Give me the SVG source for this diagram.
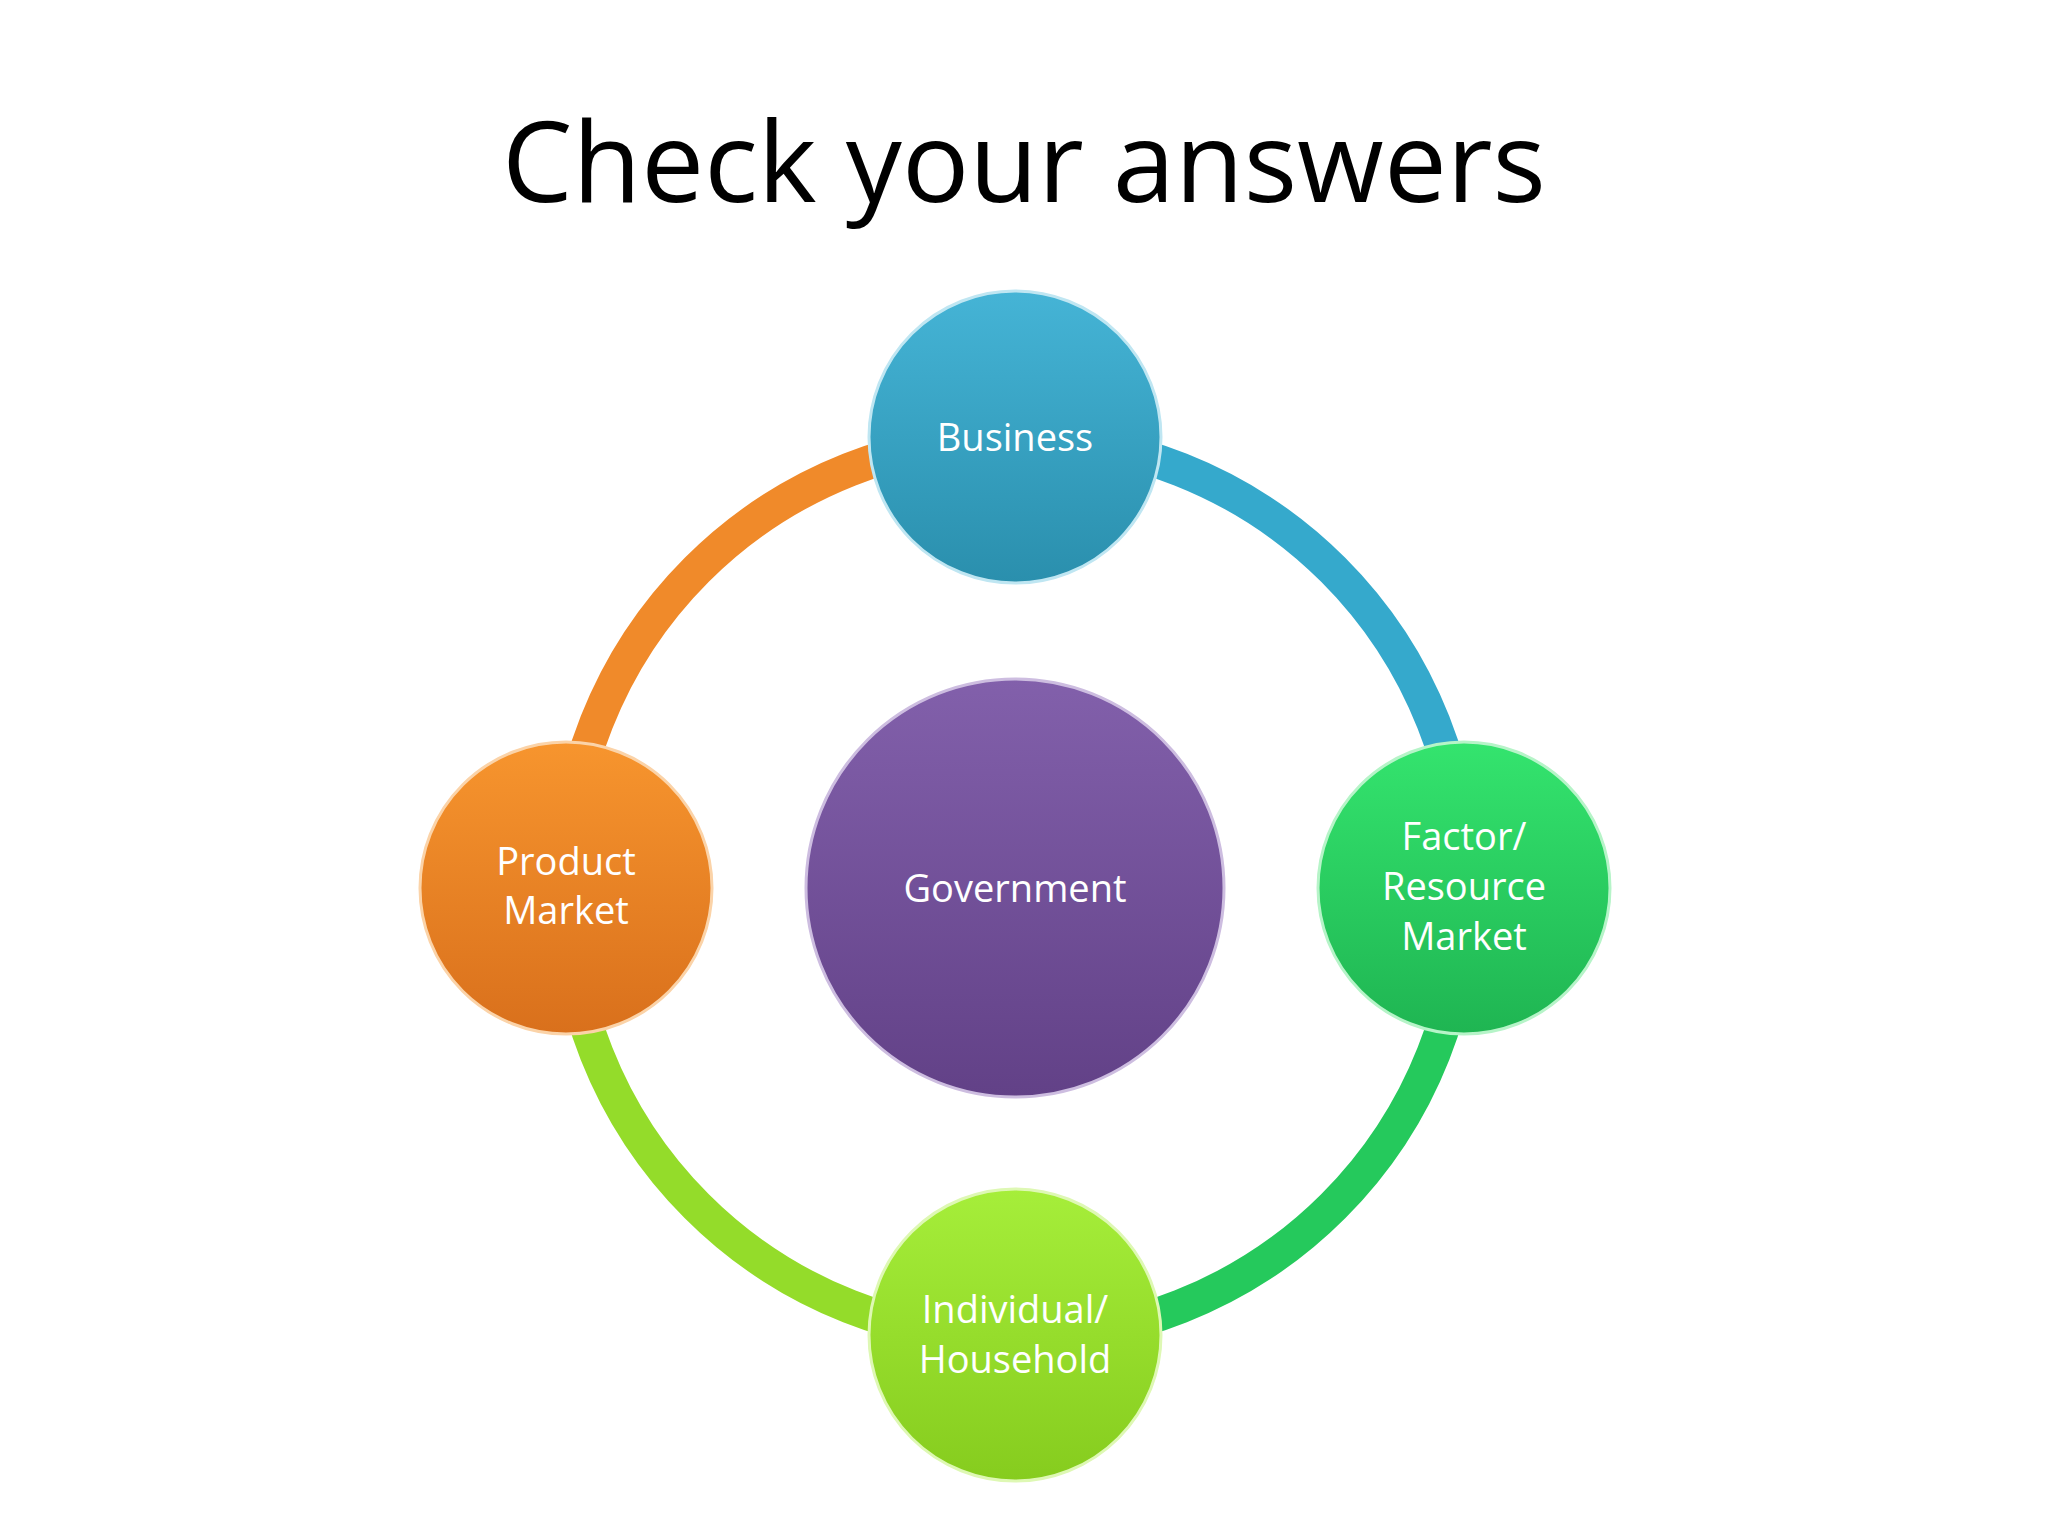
<svg xmlns="http://www.w3.org/2000/svg" width="2048" height="1536" viewBox="0 0 2048 1536">
<defs>
<style>
.lbl{font-family:"Open Sans","Liberation Sans",sans-serif;font-size:38px;fill:#fff;text-anchor:middle}
.arc{fill:none;stroke-width:34}
</style>
<linearGradient id="gB" x1="0" y1="0" x2="0" y2="1"><stop offset="0" stop-color="#45b4d6"/><stop offset="1" stop-color="#2a8fad"/></linearGradient>
<linearGradient id="gO" x1="0" y1="0" x2="0" y2="1"><stop offset="0" stop-color="#f7952e"/><stop offset="1" stop-color="#d9701c"/></linearGradient>
<linearGradient id="gG" x1="0" y1="0" x2="0" y2="1"><stop offset="0" stop-color="#34e46e"/><stop offset="1" stop-color="#1fb552"/></linearGradient>
<linearGradient id="gL" x1="0" y1="0" x2="0" y2="1"><stop offset="0" stop-color="#a6ee3a"/><stop offset="1" stop-color="#86cc1e"/></linearGradient>
<linearGradient id="gP" x1="0" y1="0" x2="0" y2="1"><stop offset="0" stop-color="#8260ab"/><stop offset="1" stop-color="#624187"/></linearGradient>
</defs>
<rect width="2048" height="1536" fill="#fff"/>
<text x="1024" y="202" font-family="Open Sans,Liberation Sans,sans-serif" font-size="112" text-anchor="middle" fill="#000">Check your answers</text>
<g id="connectors">
<path class="arc" stroke="#f08a2a" d="M 1015 438 A 450 450 0 0 0 565 888"/>
<path class="arc" stroke="#35a9cc" d="M 1015 438 A 450 450 0 0 1 1465 888"/>
<path class="arc" stroke="#25c95c" d="M 1465 888 A 450 450 0 0 1 1015 1338"/>
<path class="arc" stroke="#94dc2a" d="M 1015 1338 A 450 450 0 0 1 565 888"/>
</g>
<g id="business"><circle cx="1015" cy="437" r="146" fill="url(#gB)" stroke="#bfe6f2" stroke-width="3"/><text class="lbl" x="1015" y="451">Business</text></g>
<g id="product"><circle cx="566" cy="888" r="146" fill="url(#gO)" stroke="#fbd3a8" stroke-width="3"/><text class="lbl" x="566" y="875">Product</text><text class="lbl" x="566" y="924">Market</text></g>
<g id="factor"><circle cx="1464" cy="888" r="146" fill="url(#gG)" stroke="#b6f4c8" stroke-width="3"/><text class="lbl" x="1464" y="850">Factor/</text><text class="lbl" x="1464" y="900">Resource</text><text class="lbl" x="1464" y="950">Market</text></g>
<g id="individual"><circle cx="1015" cy="1335" r="146" fill="url(#gL)" stroke="#def8b4" stroke-width="3"/><text class="lbl" x="1015" y="1323">Individual/</text><text class="lbl" x="1015" y="1373">Household</text></g>
<g id="government"><circle cx="1015" cy="888" r="209" fill="url(#gP)" stroke="#cdbde0" stroke-width="3"/><text class="lbl" x="1015" y="902" font-size="47">Government</text></g>
</svg>
